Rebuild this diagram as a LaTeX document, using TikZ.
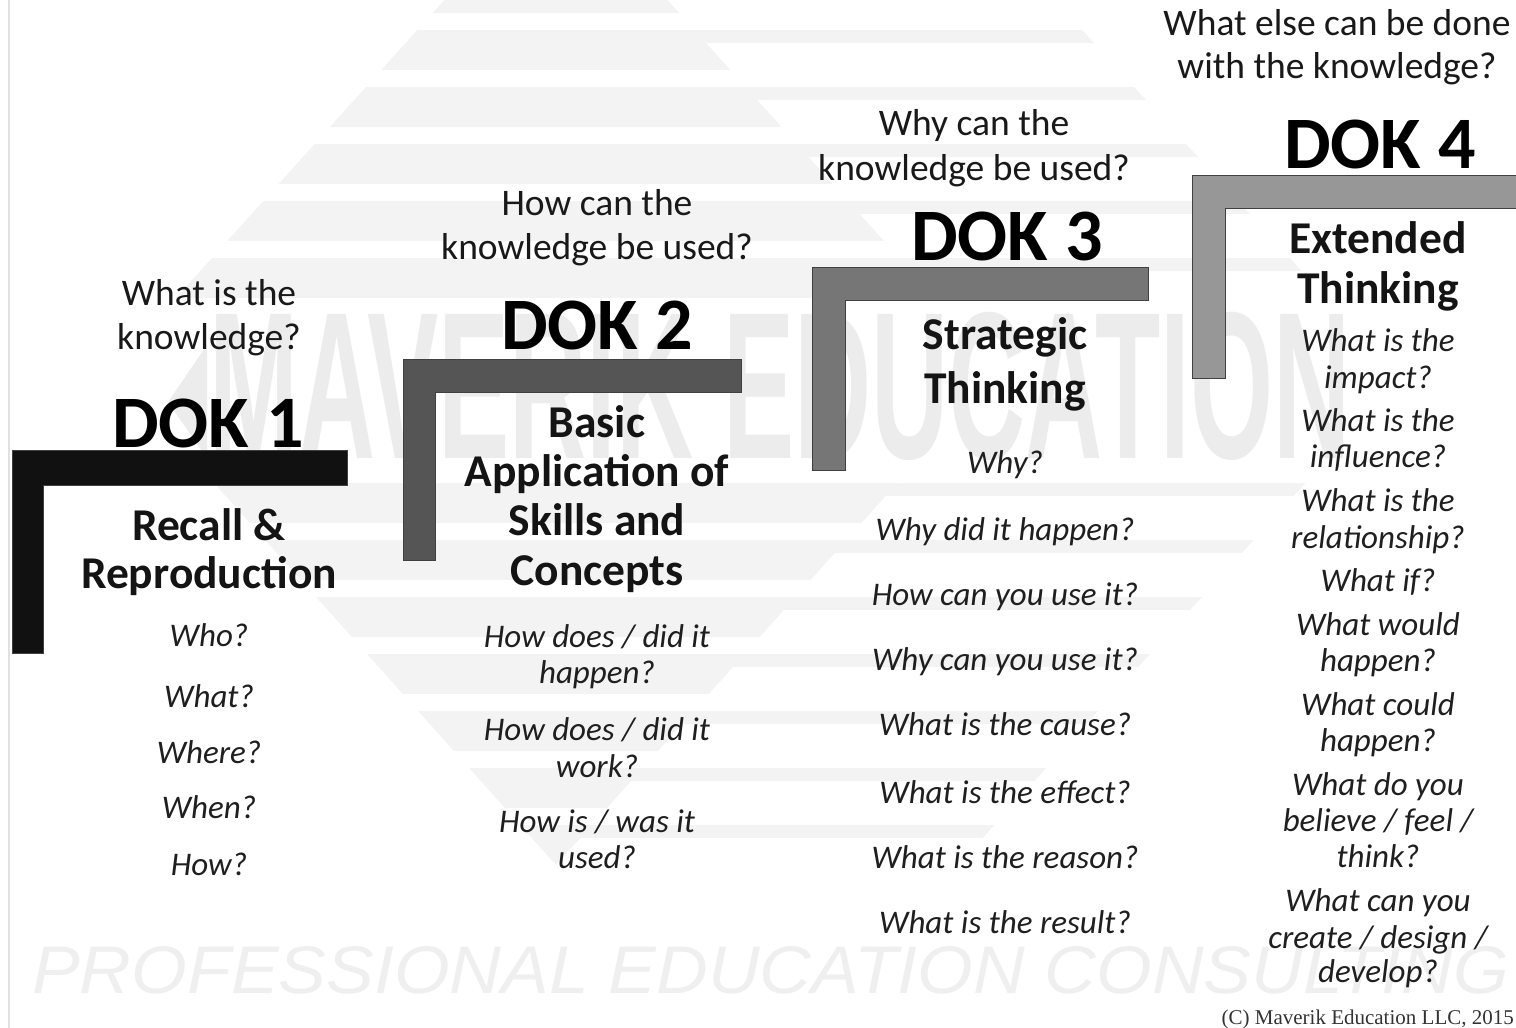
\documentclass[tikz,border=0pt]{standalone}
\usepackage{graphicx}
\usepackage{fontspec}
\setmainfont{Carlito}
\newfontfamily\wmfont{Liberation Sans}
\newfontfamily\copyfont{Liberation Serif}
\definecolor{stepA}{HTML}{111111}
\definecolor{stepB}{HTML}{555555}
\definecolor{stepC}{HTML}{767676}
\definecolor{stepD}{HTML}{979797}
\definecolor{wmstripe}{HTML}{F3F3F3}
\definecolor{wmtext}{HTML}{ECECEC}
\definecolor{wmtextb}{HTML}{EFEFEF}
\begin{document}
\begin{tikzpicture}[x=1pt,y=-1pt,
  hq/.style={font=\fontsize{37.5}{44}\selectfont, anchor=base, inner sep=0pt, text=black!90},
  dok/.style={font=\fontsize{74}{80}\selectfont\bfseries, anchor=base, inner sep=0pt},
  sub/.style={font=\fontsize{45.5}{50}\selectfont\bfseries, anchor=base, inner sep=0pt, text=black!92},
  qi/.style={font=\fontsize{33}{37}\selectfont\itshape, anchor=base, inner sep=0pt, text=black!88},
  stepbar/.style={draw=black!75, line width=1pt}
]
\useasboundingbox (0,0) rectangle (1516,1028);
\fill[white] (0,0) rectangle (1516,1028);

% ---------- watermark ----------
\begin{scope}
  \clip (556,-124) -- (999,369) -- (556,865) -- (112,369) -- cycle;
  \foreach \t in {-27,30,87,144,201,258,483,540,597,654,711,768,825}
    \fill[wmstripe] (0,\t) rectangle ({1516},{\t+40});
\end{scope}
\begin{scope}
  \clip (556,-124) -- (942,-124) -- (1400,379) -- (958,865) -- (556,865) -- (999,369) -- cycle;
  \foreach \t in {-27,30,87,144,201,258,483,540,597,654,711,768,825}
    \fill[wmstripe] (0,\t) rectangle ({1516},{\t+13});
\end{scope}
\fill[wmtext] (168,402) -- (207,345) -- (207,458) -- cycle;
\node[anchor=base west, inner sep=0pt, text=wmtext] (wmmav) at (209,458)
  {\resizebox{1140pt}{146pt}{\wmfont\bfseries MAVERIK EDUCATION}};
\node[anchor=base west, inner sep=0pt, text=wmtextb] (wmpro) at (32,993)
  {\resizebox{1476pt}{47pt}{\wmfont\itshape PROFESSIONAL EDUCATION CONSULTING}};
\draw[black!12, line width=1.5pt] (9,0) -- (9,1028);

% ---------- steps ----------
\fill[stepA, stepbar] (12,450) -- (347,450) -- (347,485) -- (43,485) -- (43,653) -- (12,653) -- cycle;
\fill[stepB, stepbar] (403,359) -- (741,359) -- (741,392) -- (435,392) -- (435,560) -- (403,560) -- cycle;
\fill[stepC, stepbar] (812,267) -- (1148,267) -- (1148,300) -- (845,300) -- (845,470) -- (812,470) -- cycle;
\fill[stepD, stepbar] (1192,175) -- (1520,175) -- (1520,208) -- (1225,208) -- (1225,378) -- (1192,378) -- cycle;

% ---------- DOK 1 ----------
\node[hq] (h1a) at (209,305) {What is the};
\node[hq] (h1b) at (209,349) {knowledge?};
\node[dok] (t1) at (208,447) {DOK 1};
\node[sub] (s1a) at (209,540) {Recall \&};
\node[sub] (s1b) at (209,588) {Reproduction};
\node[qi] (q1a) at (209,646) {Who?};
\node[qi] (q1b) at (209,707) {What?};
\node[qi] (q1c) at (209,763) {Where?};
\node[qi] (q1d) at (209,818) {When?};
\node[qi] (q1e) at (209,875) {How?};

% ---------- DOK 2 ----------
\node[hq] (h2a) at (597,215) {How can the};
\node[hq] (h2b) at (597,259) {knowledge be used?};
\node[dok] (t2) at (597,349) {DOK 2};
\node[sub] (s2a) at (597,437) {Basic};
\node[sub] (s2b) at (597,486) {Application of};
\node[sub] (s2c) at (597,535) {Skills and};
\node[sub] (s2d) at (597,585) {Concepts};
\node[qi] (q2a) at (597,647) {How does / did it};
\node[qi] (q2b) at (597,683) {happen?};
\node[qi] (q2c) at (597,740) {How does / did it};
\node[qi] (q2d) at (597,777) {work?};
\node[qi] (q2e) at (597,832) {How is / was it};
\node[qi] (q2f) at (597,868) {used?};

% ---------- DOK 3 ----------
\node[hq] (h3a) at (974,135) {Why can the};
\node[hq] (h3b) at (974,180) {knowledge be used?};
\node[dok] (t3) at (1007,260) {DOK 3};
\node[sub] (s3a) at (1005,349) {Strategic};
\node[sub] (s3b) at (1005,403) {Thinking};
\node[qi] (q3a) at (1005,473) {Why?};
\node[qi] (q3b) at (1005,540) {Why did it happen?};
\node[qi] (q3c) at (1005,605) {How can you use it?};
\node[qi] (q3d) at (1005,670) {Why can you use it?};
\node[qi] (q3e) at (1005,735) {What is the cause?};
\node[qi] (q3f) at (1005,803) {What is the effect?};
\node[qi] (q3g) at (1005,868) {What is the reason?};
\node[qi] (q3h) at (1005,933) {What is the result?};

% ---------- DOK 4 ----------
\node[hq] (h4a) at (1337,35) {What else can be done};
\node[hq] (h4b) at (1337,78) {with the knowledge?};
\node[dok] (t4) at (1380,168) {DOK 4};
\node[sub] (s4a) at (1378,253) {Extended};
\node[sub] (s4b) at (1378,303) {Thinking};
\node[qi] (q4a) at (1378,351) {What is the};
\node[qi] (q4b) at (1378,388) {impact?};
\node[qi] (q4c) at (1378,431) {What is the};
\node[qi] (q4d) at (1378,467) {influence?};
\node[qi] (q4e) at (1378,511) {What is the};
\node[qi] (q4f) at (1378,548) {relationship?};
\node[qi] (q4g) at (1378,591) {What if?};
\node[qi] (q4h) at (1378,635) {What would};
\node[qi] (q4i) at (1378,671) {happen?};
\node[qi] (q4j) at (1378,715) {What could};
\node[qi] (q4k) at (1378,751) {happen?};
\node[qi] (q4l) at (1378,795) {What do you};
\node[qi] (q4m) at (1378,831) {believe / feel /};
\node[qi] (q4n) at (1378,867) {think?};
\node[qi] (q4o) at (1378,911) {What can you};
\node[qi] (q4p) at (1378,948) {create / design /};
\node[qi] (q4q) at (1378,982) {develop?};

% ---------- copyright ----------
\node[anchor=base east, inner sep=0pt, font=\copyfont\fontsize{21}{24}\selectfont, text=black!80] (copy) at (1514,1024) {(C) Maverik Education LLC, 2015};
\end{tikzpicture}
\end{document}
